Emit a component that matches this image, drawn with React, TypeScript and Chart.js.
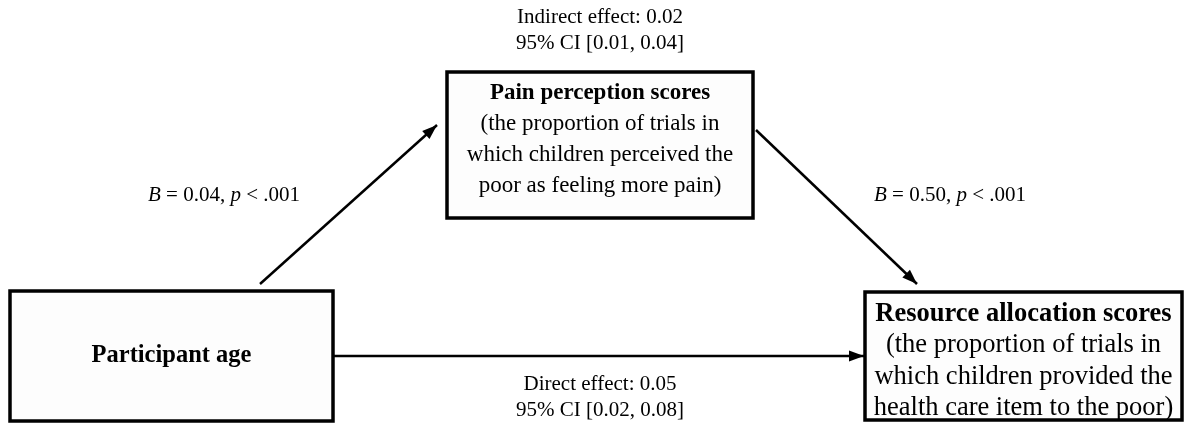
import React, { useEffect, useRef } from "react";
import { Chart, registerables } from "chart.js";

Chart.register(...registerables);

// ---- Data (content of the mediation diagram) ----
const nodeTitles = ["Participant age", "Pain perception scores", "Resource allocation scores"];
const nodeDescriptions = [
  [],
  ["(the proportion of trials in", "which children perceived the", "poor as feeling more pain)"],
  ["(the proportion of trials in", "which children provided the", "health care item to the poor)"],
];
const pathCoefficients = ["0.04", "0.50"]; // a path, b path
const pathPValues = [".001", ".001"];
const indirectEffect = "0.02";
const indirectCI = ["0.01", "0.04"];
const directEffect = "0.05";
const directCI = ["0.02", "0.08"];

// ---- Layout (data-space coordinates, x: 0..1186, y: 0..423 top-down) ----
const W = 1186;
const H = 423;
const boxes = [
  { x0: 10, y0: 291, x1: 333, y1: 421, firstY: 356, lineH: 31, titleSize: 24.5, textSize: 24.5 },
  { x0: 447, y0: 72, x1: 753, y1: 218, firstY: 93, lineH: 31, titleSize: 23, textSize: 23 },
  { x0: 865, y0: 292, x1: 1182, y1: 420, firstY: 314, lineH: 31.3, titleSize: 26.5, textSize: 26.5 },
];
const arrows = [
  [{ x: 260, y: 284 }, { x: 437, y: 125 }],
  [{ x: 756, y: 130 }, { x: 917, y: 284 }],
  [{ x: 334, y: 356 }, { x: 864, y: 356 }],
];
const pathLabelPos = [
  { x: 224, y: 195 },
  { x: 950, y: 195 },
];
const indirectPos = { x: 600, y: 17, lineH: 26 };
const directPos = { x: 600, y: 384, lineH: 26 };
const LABEL_SIZE = 21;
const FONT = "'Liberation Serif', 'Times New Roman', serif";

function drawSegments(ctx: CanvasRenderingContext2D, segs: { t: string; italic?: boolean }[], cx: number, cy: number, size: number) {
  const fontOf = (s: { italic?: boolean }) => `${s.italic ? "italic " : ""}${size}px ${FONT}`;
  let total = 0;
  const widths = segs.map((s) => {
    ctx.font = fontOf(s);
    const w = ctx.measureText(s.t).width;
    total += w;
    return w;
  });
  let x = cx - total / 2;
  ctx.textAlign = "left";
  ctx.textBaseline = "middle";
  segs.forEach((s, i) => {
    ctx.font = fontOf(s);
    ctx.fillText(s.t, x, cy);
    x += widths[i];
  });
}

const diagramPlugin = {
  id: "diagram",
  beforeDatasetsDraw(chart: any) {
    const { ctx, scales } = chart;
    const px = (v: number) => scales.x.getPixelForValue(v);
    const py = (v: number) => scales.y.getPixelForValue(v);
    ctx.save();
    boxes.forEach((b) => {
      const x0 = px(b.x0), x1 = px(b.x1), y0 = py(b.y0), y1 = py(b.y1);
      ctx.fillStyle = "#fdfdfd";
      ctx.fillRect(x0, y0, x1 - x0, y1 - y0);
      ctx.lineWidth = 3.5;
      ctx.strokeStyle = "#000";
      ctx.strokeRect(x0, y0, x1 - x0, y1 - y0);
    });
    ctx.restore();
  },
  afterDatasetsDraw(chart: any) {
    const { ctx, scales } = chart;
    const px = (v: number) => scales.x.getPixelForValue(v);
    const py = (v: number) => scales.y.getPixelForValue(v);
    ctx.save();
    ctx.fillStyle = "#000";
    // arrowheads
    arrows.forEach((a) => {
      const p0 = { x: px(a[0].x), y: py(a[0].y) };
      const p1 = { x: px(a[1].x), y: py(a[1].y) };
      const ang = Math.atan2(p1.y - p0.y, p1.x - p0.x);
      const len = 15, half = 5.5;
      const bx = p1.x - len * Math.cos(ang), by = p1.y - len * Math.sin(ang);
      ctx.beginPath();
      ctx.moveTo(p1.x, p1.y);
      ctx.lineTo(bx + half * Math.sin(ang), by - half * Math.cos(ang));
      ctx.lineTo(bx - half * Math.sin(ang), by + half * Math.cos(ang));
      ctx.closePath();
      ctx.fill();
    });
    // box texts
    boxes.forEach((b, i) => {
      const cx = px((b.x0 + b.x1) / 2);
      ctx.textAlign = "center";
      ctx.textBaseline = "middle";
      ctx.font = `bold ${b.titleSize}px ${FONT}`;
      ctx.fillText(nodeTitles[i], cx, py(b.firstY));
      ctx.font = `${b.textSize}px ${FONT}`;
      nodeDescriptions[i].forEach((line, j) => {
        ctx.fillText(line, cx, py(b.firstY + (j + 1) * b.lineH));
      });
    });
    // path labels
    pathLabelPos.forEach((p, i) => {
      drawSegments(
        ctx,
        [
          { t: "B", italic: true },
          { t: ` = ${pathCoefficients[i]}, ` },
          { t: "p", italic: true },
          { t: ` < ${pathPValues[i]}` },
        ],
        px(p.x),
        py(p.y),
        LABEL_SIZE
      );
    });
    // effect texts
    ctx.textAlign = "center";
    ctx.textBaseline = "middle";
    ctx.font = `${LABEL_SIZE}px ${FONT}`;
    ctx.fillText(`Indirect effect: ${indirectEffect}`, px(indirectPos.x), py(indirectPos.y));
    ctx.fillText(`95% CI [${indirectCI[0]}, ${indirectCI[1]}]`, px(indirectPos.x), py(indirectPos.y + indirectPos.lineH));
    ctx.fillText(`Direct effect: ${directEffect}`, px(directPos.x), py(directPos.y));
    ctx.fillText(`95% CI [${directCI[0]}, ${directCI[1]}]`, px(directPos.x), py(directPos.y + directPos.lineH));
    ctx.restore();
  },
};

export default function App() {
  const ref = useRef<HTMLCanvasElement | null>(null);
  useEffect(() => {
    document.body.style.margin = "0";
    if (!ref.current) return;
    const chart = new Chart(ref.current, {
      type: "scatter",
      data: {
        datasets: arrows.map((a) => ({
          data: a,
          showLine: true,
          borderColor: "#000",
          borderWidth: 2.5,
          pointRadius: 0,
          borderCapStyle: "butt" as const,
        })),
      },
      options: {
        animation: false,
        responsive: true,
        maintainAspectRatio: false,
        layout: { padding: 0 },
        plugins: { legend: { display: false }, tooltip: { enabled: false } },
        scales: {
          x: { type: "linear", min: 0, max: W, display: false },
          y: { type: "linear", min: 0, max: H, reverse: true, display: false },
        },
      },
      plugins: [diagramPlugin],
    });
    return () => chart.destroy();
  }, []);
  return (
    <div style={{ position: "fixed", left: 0, top: 0, width: W, height: H, background: "#fff" }}>
      <canvas ref={ref} />
    </div>
  );
}
